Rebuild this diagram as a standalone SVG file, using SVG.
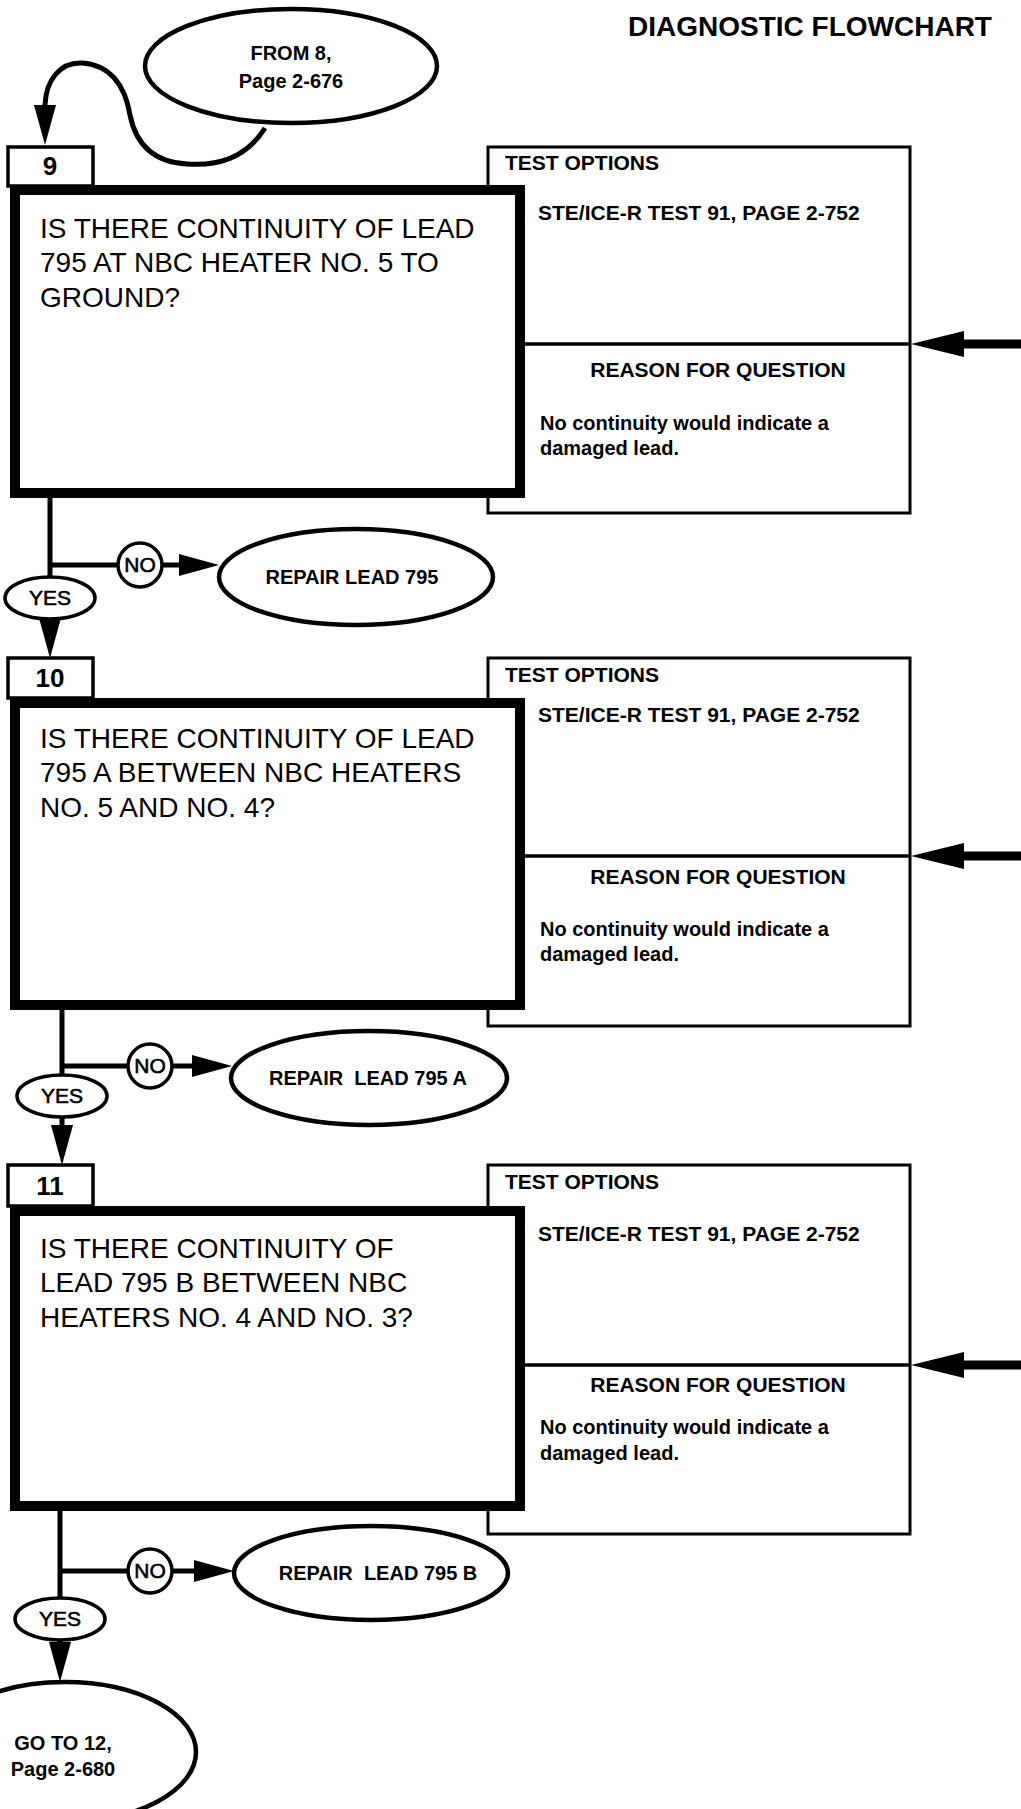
<svg xmlns="http://www.w3.org/2000/svg" width="1021" height="1809" viewBox="0 0 1021 1809">
<style>
text { font-family: "Liberation Sans", Arial, Helvetica, sans-serif; fill:#000; }
.title { font-size:28px; font-weight:bold; }
.q { font-size:28px; }
.num { font-size:26px; font-weight:bold; text-anchor:middle; }
.hd { font-size:21px; font-weight:bold; }
.hdc { font-size:21px; font-weight:bold; text-anchor:middle; }
.body { font-size:20px; font-weight:bold; }
.term { font-size:20px; font-weight:bold; text-anchor:middle; }
.lbl { font-size:21px; text-anchor:middle; stroke:#000; stroke-width:0.6; }
.thick { fill:#fff; stroke:#000; stroke-width:10; }
.thin { fill:#fff; stroke:#000; stroke-width:3; }
.div { fill:none; stroke:#000; stroke-width:3.5; }
.ell { fill:#fff; stroke:#000; stroke-width:4.5; }
.small { fill:#fff; stroke:#000; stroke-width:3.5; }
.wire { fill:none; stroke:#000; stroke-width:5; }
.shaft { fill:none; stroke:#000; stroke-width:9; }
.head { fill:#000; }
</style>
<defs>
<marker id="ah" markerUnits="userSpaceOnUse" markerWidth="40" markerHeight="22" refX="30" refY="11" orient="auto">
<path d="M0,0 L40,11 L0,22 Z" fill="#000"/>
</marker>
</defs>

<text class="title" x="628" y="36">DIAGNOSTIC FLOWCHART</text>

<g id="connectors">
<path class="wire" d="M265,128 C245,160 215,166 187,164 C150,162 135,140 130,115 C125,85 110,65 82,63 C60,62 46,80 45,105 L45,135" marker-end="url(#ah)"/>
<path class="wire" d="M50,498 V648" marker-end="url(#ah)"/>
<path class="wire" d="M50,565 H118"/>
<path class="wire" d="M162,565 H209" marker-end="url(#ah)"/>
<path class="wire" d="M62,1008 V1155" marker-end="url(#ah)"/>
<path class="wire" d="M62,1066 H128"/>
<path class="wire" d="M172,1066 H222" marker-end="url(#ah)"/>
<path class="wire" d="M60,1511 V1672" marker-end="url(#ah)"/>
<path class="wire" d="M60,1571 H128"/>
<path class="wire" d="M172,1571 H224" marker-end="url(#ah)"/>
<line class="shaft" x1="960" y1="344" x2="1021" y2="344"/>
<polygon class="head" points="911,344 964,331 964,357"/>
<line class="shaft" x1="960" y1="856" x2="1021" y2="856"/>
<polygon class="head" points="911,856 964,843 964,869"/>
<line class="shaft" x1="960" y1="1365" x2="1021" y2="1365"/>
<polygon class="head" points="911,1365 964,1352 964,1378"/>
</g>

<g id="from8">
<ellipse class="ell" cx="291" cy="66" rx="146" ry="57"/>
<text class="term" x="291" y="60">FROM 8,</text>
<text class="term" x="291" y="88">Page 2-676</text>
</g>

<g id="test9">
<rect class="thin" x="488" y="147" width="422" height="366"/>
<line class="div" x1="520" y1="344" x2="910" y2="344"/>
<text class="hd" x="505" y="170">TEST OPTIONS</text>
<text class="hd" x="538" y="220">STE/ICE-R TEST 91, PAGE 2-752</text>
<text class="hdc" x="718" y="377">REASON FOR QUESTION</text>
<text class="body" x="540" y="430">No continuity would indicate a</text>
<text class="body" x="540" y="455">damaged lead.</text>
</g>
<g id="step9">
<rect class="small" x="8" y="147" width="85" height="39"/>
<text class="num" x="50" y="175">9</text>
<rect class="thick" x="15" y="190" width="505" height="303"/>
<text class="q" x="40" y="238">IS THERE CONTINUITY OF LEAD</text>
<text class="q" x="40" y="272">795 AT NBC HEATER NO. 5 TO</text>
<text class="q" x="40" y="307">GROUND?</text>
</g>
<g id="no9">
<circle class="small" cx="140" cy="565" r="22"/>
<text class="lbl" x="140" y="572">NO</text>
</g>
<g id="yes9">
<ellipse class="small" cx="50" cy="598" rx="45" ry="21"/>
<text class="lbl" x="50" y="605">YES</text>
</g>
<g id="repair795">
<ellipse class="ell" cx="356" cy="577" rx="137" ry="48"/>
<text class="term" x="352" y="584">REPAIR LEAD 795</text>
</g>

<g id="test10">
<rect class="thin" x="488" y="658" width="422" height="368"/>
<line class="div" x1="520" y1="856" x2="910" y2="856"/>
<text class="hd" x="505" y="682">TEST OPTIONS</text>
<text class="hd" x="538" y="722">STE/ICE-R TEST 91, PAGE 2-752</text>
<text class="hdc" x="718" y="884">REASON FOR QUESTION</text>
<text class="body" x="540" y="936">No continuity would indicate a</text>
<text class="body" x="540" y="961">damaged lead.</text>
</g>
<g id="step10">
<rect class="small" x="8" y="658" width="85" height="40"/>
<text class="num" x="50" y="687">10</text>
<rect class="thick" x="15" y="703" width="505" height="302"/>
<text class="q" x="40" y="748">IS THERE CONTINUITY OF LEAD</text>
<text class="q" x="40" y="782">795 A BETWEEN NBC HEATERS</text>
<text class="q" x="40" y="817">NO. 5 AND NO. 4?</text>
</g>
<g id="no10">
<circle class="small" cx="150" cy="1066" r="22"/>
<text class="lbl" x="150" y="1073">NO</text>
</g>
<g id="yes10">
<ellipse class="small" cx="62" cy="1096" rx="45" ry="21"/>
<text class="lbl" x="62" y="1103">YES</text>
</g>
<g id="repair795a">
<ellipse class="ell" cx="369" cy="1078" rx="138" ry="47"/>
<text class="term" x="368" y="1085" xml:space="preserve">REPAIR  LEAD 795 A</text>
</g>

<g id="test11">
<rect class="thin" x="488" y="1165" width="422" height="369"/>
<line class="div" x1="520" y1="1365" x2="910" y2="1365"/>
<text class="hd" x="505" y="1189">TEST OPTIONS</text>
<text class="hd" x="538" y="1241">STE/ICE-R TEST 91, PAGE 2-752</text>
<text class="hdc" x="718" y="1392">REASON FOR QUESTION</text>
<text class="body" x="540" y="1434">No continuity would indicate a</text>
<text class="body" x="540" y="1460">damaged lead.</text>
</g>
<g id="step11">
<rect class="small" x="8" y="1165" width="85" height="41"/>
<text class="num" x="50" y="1195">11</text>
<rect class="thick" x="15" y="1211" width="505" height="295"/>
<text class="q" x="40" y="1258">IS THERE CONTINUITY OF</text>
<text class="q" x="40" y="1292">LEAD 795 B BETWEEN NBC</text>
<text class="q" x="40" y="1327">HEATERS NO. 4 AND NO. 3?</text>
</g>
<g id="no11">
<circle class="small" cx="150" cy="1571" r="22"/>
<text class="lbl" x="150" y="1578">NO</text>
</g>
<g id="yes11">
<ellipse class="small" cx="60" cy="1619" rx="45" ry="21"/>
<text class="lbl" x="60" y="1626">YES</text>
</g>
<g id="repair795b">
<ellipse class="ell" cx="371" cy="1573" rx="137" ry="47"/>
<text class="term" x="378" y="1580" xml:space="preserve">REPAIR  LEAD 795 B</text>
</g>

<g id="goto12">
<ellipse class="ell" cx="65" cy="1752" rx="131" ry="70"/>
<text class="term" x="63" y="1750">GO TO 12,</text>
<text class="term" x="63" y="1776">Page 2-680</text>
</g>
</svg>
